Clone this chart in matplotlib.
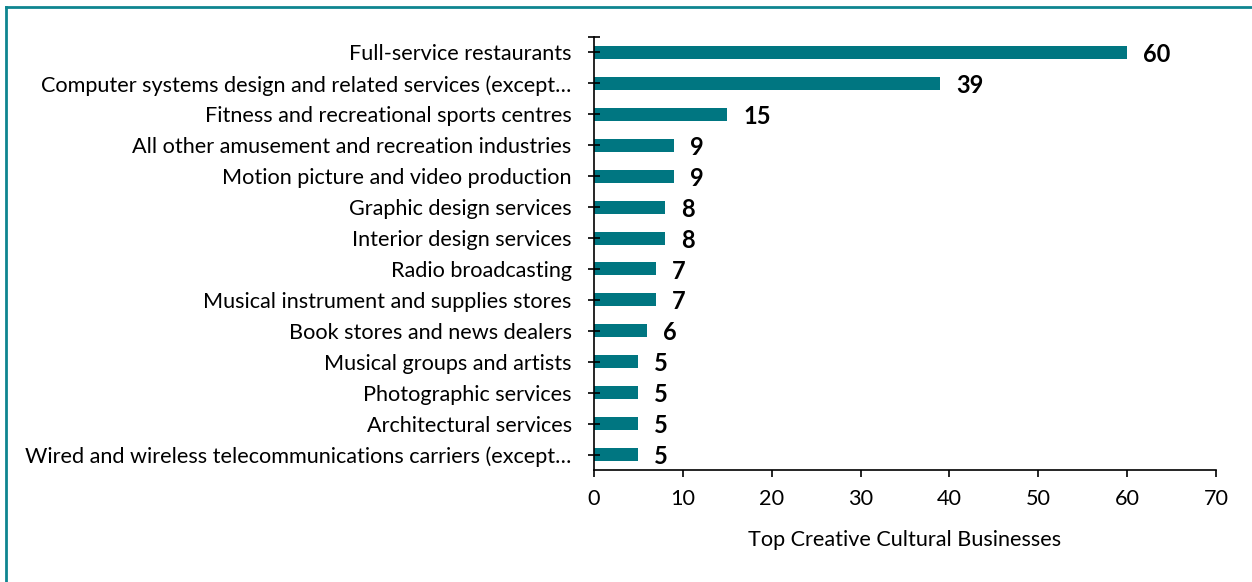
import matplotlib
matplotlib.use("Agg")
import matplotlib.pyplot as plt
from matplotlib.lines import Line2D

categories = [
    "Full-service restaurants",
    "Computer systems design and related services (except\u2026",
    "Fitness and recreational sports centres",
    "All other amusement and recreation industries",
    "Motion picture and video production",
    "Graphic design services",
    "Interior design services",
    "Radio broadcasting",
    "Musical instrument and supplies stores",
    "Book stores and news dealers",
    "Musical groups and artists",
    "Photographic services",
    "Architectural services",
    "Wired and wireless telecommunications carriers (except\u2026",
]
values = [60, 39, 15, 9, 9, 8, 8, 7, 7, 6, 5, 5, 5, 5]
x_ticks = [0, 10, 20, 30, 40, 50, 60, 70]
x_label = "Top Creative Cultural Businesses"

teal = "#007681"
plt.rcParams["font.family"] = ["Lato", "DejaVu Sans"]

fig = plt.figure(figsize=(12.52, 5.82), dpi=100)
ax = fig.add_axes([0.4744, 0.1924, 0.4968, 0.744])

pos = list(range(len(categories)))
ax.barh(pos, values, height=0.42, color=teal)
ax.set_ylim(len(categories) - 0.5, -0.5)
ax.set_xlim(0, 70)

ax.set_yticks(pos)
ax.set_yticklabels(categories, fontsize=15.6)
ax.set_yticks([-0.5], minor=True)
ax.tick_params(axis="y", which="both", direction="inout", length=8, width=1.2, pad=12, colors="black")

ax.set_xticks(x_ticks)
ax.set_xticklabels([str(t) for t in x_ticks], fontsize=15.6)
ax.tick_params(axis="x", direction="out", length=5, width=1.2, pad=9)
ax.set_xlabel(x_label, fontsize=15.6, labelpad=15)

for s in ("top", "right"):
    ax.spines[s].set_visible(False)
for s in ("left", "bottom"):
    ax.spines[s].set_linewidth(1.2)

for p, v in zip(pos, values):
    ax.annotate(str(v), (v, p), xytext=(11.5, -1.5), textcoords="offset points",
                ha="left", va="center", fontsize=17, fontweight="bold")

# frame lines along the left and top edges
fig.add_artist(Line2D([6 / 1252, 6 / 1252], [0, 1 - 7 / 582], transform=fig.transFigure,
                      color="#0e8590", linewidth=2))
fig.add_artist(Line2D([6 / 1252, 1], [1 - 7 / 582, 1 - 7 / 582], transform=fig.transFigure,
                      color="#0e8590", linewidth=2))

fig.savefig("out.png", dpi=100)
